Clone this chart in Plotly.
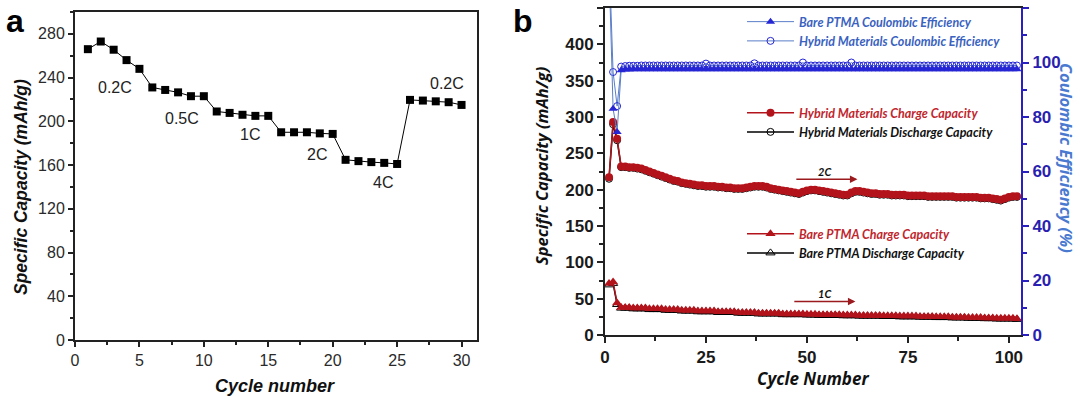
import plotly.graph_objects as go

# ---------------- Panel a data ----------------
a_cycles = list(range(1, 31))
a_capacity = [266, 273, 265.5, 256, 248, 231, 228.7, 226.5, 223, 223,
              209, 207.7, 206, 205, 205, 190, 190, 190, 189, 188.5,
              164.8, 163.6, 162.7, 162, 161, 219.6, 219, 218.3, 217.5, 215]
a_rate_labels = ["0.2C", "0.5C", "1C", "2C", "4C", "0.2C"]
a_rate_x = [3.1, 8.3, 13.6, 18.8, 23.9, 28.9]
a_rate_y = [231, 203, 188, 170, 144, 235]

# ---------------- Panel b data ----------------
b_cycles = list(range(1, 103))
hyb_charge = [217, 293, 270, 232, 232, 231, 231, 230, 229, 227,
              225, 223, 221, 219, 217, 215, 213, 212, 210, 209,
              208, 207, 206, 206, 205, 205, 205, 204, 204, 203,
              203, 202, 202, 202, 203, 204, 205, 205, 205, 204,
              202, 201, 200, 199, 198, 197, 196, 195, 197, 199,
              200, 200, 199, 198, 197, 196, 195, 194, 193, 193,
              196, 198, 198, 197, 196, 195, 195, 194, 194, 194,
              193, 193, 193, 193, 192, 192, 192, 192, 192, 191,
              191, 191, 191, 191, 191, 191, 190, 190, 190, 190,
              190, 190, 189, 189, 189, 188, 187, 186, 188, 190,
              191, 191]
hyb_discharge = [215, 290, 268, 231, 231, 230, 230, 229, 228, 226,
                 224, 222, 220, 218, 216, 214, 212, 211, 209, 208,
                 207, 206, 205, 205, 204, 204, 204, 203, 203, 202,
                 202, 201, 201, 201, 202, 203, 204, 204, 204, 203,
                 201, 200, 199, 198, 197, 196, 195, 194, 196, 198,
                 199, 199, 198, 197, 196, 195, 194, 193, 192, 192,
                 195, 197, 197, 196, 195, 194, 194, 193, 193, 193,
                 192, 192, 192, 192, 191, 191, 191, 191, 191, 190,
                 190, 190, 190, 190, 190, 190, 189, 189, 189, 189,
                 189, 189, 188, 188, 188, 187, 186, 185, 187, 189,
                 190, 190]
bare_charge = [71, 73, 44, 38, 38, 38, 37, 37, 37, 37,
               36, 36, 36, 36, 35, 35, 35, 35, 34, 34,
               34, 34, 33, 33, 33, 33, 33, 32, 32, 32,
               32, 32, 31, 31, 31, 31, 31, 30, 30, 30,
               30, 30, 30, 29, 29, 29, 29, 29, 29, 28.5,
               28.5, 28.5, 28, 28, 28, 28, 28, 28, 27.5, 27.5,
               27.5, 27.5, 27, 27, 27, 27, 27, 27, 26.5, 26.5,
               26.5, 26.5, 26, 26, 26, 26, 26, 25.5, 25.5, 25.5,
               25.5, 25, 25, 25, 25, 24.5, 24.5, 24.5, 24.5, 24,
               24, 24, 24, 23.5, 23.5, 23.5, 23, 23, 23, 23,
               23, 22.5]
bare_discharge = [69, 71, 42, 37, 37, 37, 36, 36, 36, 36,
                  35, 35, 35, 35, 34, 34, 34, 34, 33, 33,
                  33, 33, 32, 32, 32, 32, 32, 31, 31, 31,
                  31, 31, 30, 30, 30, 30, 30, 29, 29, 29,
                  29, 29, 29, 28, 28, 28, 28, 28, 28, 27.5,
                  27.5, 27.5, 27, 27, 27, 27, 27, 27, 26.5, 26.5,
                  26.5, 26.5, 26, 26, 26, 26, 26, 26, 25.5, 25.5,
                  25.5, 25.5, 25, 25, 25, 25, 25, 24.5, 24.5, 24.5,
                  24.5, 24, 24, 24, 24, 23.5, 23.5, 23.5, 23.5, 23,
                  23, 23, 23, 22.5, 22.5, 22.5, 22, 22, 22, 22,
                  22, 21.5]
hyb_ce = [140, 96.5, 84, 98.5, 98.7, 98.8, 98.8, 98.8, 98.9, 98.9,
          98.9, 98.9, 98.9, 98.9, 98.9, 98.9, 98.9, 98.9, 98.9, 98.9,
          98.9, 98.9, 98.9, 98.9, 99.6, 98.9, 98.9, 98.9, 98.9, 98.9,
          98.9, 98.9, 98.9, 98.9, 98.9, 98.9, 99.7, 98.9, 98.9, 98.9,
          98.9, 98.9, 98.9, 98.9, 98.9, 98.9, 98.9, 98.9, 100.0, 98.9,
          98.9, 98.9, 98.9, 98.9, 98.9, 98.9, 98.9, 98.9, 98.9, 98.9,
          100.0, 98.9, 98.9, 98.9, 98.9, 98.9, 98.9, 98.9, 98.9, 98.9,
          98.9, 98.9, 98.9, 98.9, 98.9, 98.9, 98.9, 98.9, 98.9, 98.9,
          98.9, 98.9, 98.9, 98.9, 98.9, 98.9, 98.9, 98.9, 98.9, 98.9,
          98.9, 98.9, 98.9, 98.9, 98.9, 98.9, 98.9, 98.9, 98.9, 98.9,
          98.9, 98.9]
bare_ce = [135, 83, 74.5, 97.2, 97.4, 97.4, 97.5, 97.5, 97.5, 97.5,
           97.5, 97.5, 97.5, 97.5, 97.5, 97.5, 97.5, 97.5, 97.5, 97.5,
           97.5, 97.5, 97.5, 97.5, 97.5, 97.5, 97.5, 97.5, 97.5, 97.5,
           97.5, 97.5, 97.5, 97.5, 97.5, 97.5, 97.5, 97.5, 97.5, 97.5,
           97.5, 97.5, 97.5, 97.5, 97.5, 97.5, 97.5, 97.5, 97.5, 97.5,
           97.5, 97.5, 97.5, 97.5, 97.5, 97.5, 97.5, 97.5, 97.5, 97.5,
           97.5, 97.5, 97.5, 97.5, 97.5, 97.5, 97.5, 97.5, 97.5, 97.5,
           97.5, 97.5, 97.5, 97.5, 97.5, 97.5, 97.5, 97.5, 97.5, 97.5,
           97.5, 97.5, 97.5, 97.5, 97.5, 97.5, 97.5, 97.5, 97.5, 97.5,
           97.5, 97.5, 97.5, 97.5, 97.5, 97.5, 97.5, 97.5, 97.5, 97.5,
           97.5, 97.5]
b_rate_labels = ["2C", "1C"]
b_rate_text_x = [54.5, 54.5]
b_rate_text_y = [225, 57]
b_arrow_x0 = [47, 46.5]
b_arrow_x1 = [62.5, 62]
b_arrow_y = [214.5, 46]

# ---------------- styles ----------------
RED = "#b3131b"
BLUE = "#2626d4"
LBLUE = "#5a7ec8"
W, H = 1080, 397
ARIAL = "Liberation Sans"
LEGF = "Lato"

fig = go.Figure()

# Panel a
fig.add_trace(go.Scatter(x=a_cycles, y=a_capacity, mode="lines+markers",
                         line=dict(color="black", width=1),
                         marker=dict(symbol="square", size=8, color="black"),
                         xaxis="x", yaxis="y", showlegend=False))

# Panel b traces
fig.add_trace(go.Scatter(x=b_cycles, y=hyb_ce, mode="lines+markers", name="Hybrid Materials Coulombic Efficiency",
                         line=dict(color=LBLUE, width=1),
                         marker=dict(symbol="circle-open", size=7, color=BLUE, line=dict(width=1)),
                         xaxis="x2", yaxis="y3", legend="legend", legendrank=2))
fig.add_trace(go.Scatter(x=b_cycles, y=bare_ce, mode="lines+markers", name="Bare PTMA Coulombic Efficiency",
                         line=dict(color=LBLUE, width=1),
                         marker=dict(symbol="triangle-up", size=8, color=BLUE),
                         xaxis="x2", yaxis="y3", legend="legend", legendrank=1))
fig.add_trace(go.Scatter(x=b_cycles, y=hyb_discharge, mode="lines+markers",
                         name="Hybrid Materials Discharge Capacity",
                         line=dict(color="black", width=1.5),
                         marker=dict(symbol="circle-open", size=7, color="black", line=dict(width=1)),
                         xaxis="x2", yaxis="y2", legend="legend2", legendrank=2))
fig.add_trace(go.Scatter(x=b_cycles, y=hyb_charge, mode="lines+markers",
                         name="<span style='color:#c0262d'>Hybrid Materials Charge Capacity</span>",
                         line=dict(color=RED, width=1.5),
                         marker=dict(symbol="circle", size=8, color=RED),
                         xaxis="x2", yaxis="y2", legend="legend2", legendrank=1))
fig.add_trace(go.Scatter(x=b_cycles, y=bare_discharge, mode="lines+markers",
                         name="Bare PTMA Discharge Capacity",
                         line=dict(color="black", width=1.5),
                         marker=dict(symbol="triangle-up-open", size=8, color="black", line=dict(width=1)),
                         xaxis="x2", yaxis="y2", legend="legend3", legendrank=2))
fig.add_trace(go.Scatter(x=b_cycles, y=bare_charge, mode="lines+markers",
                         name="<span style='color:#c0262d'>Bare PTMA Charge Capacity</span>",
                         line=dict(color=RED, width=1.5),
                         marker=dict(symbol="triangle-up", size=9, color=RED),
                         xaxis="x2", yaxis="y2", legend="legend3", legendrank=1))

def px_x(p):
    return p / W

def px_y(p):
    return 1 - p / H

tick_a = dict(family=ARIAL, size=16, color="#2a2a2a")
tick_b = dict(family=ARIAL, size=17, color="#1a1a1a", weight="bold")

common_a = dict(showline=True, linecolor="#222", linewidth=2, mirror=True, ticks="outside",
                ticklen=5, tickwidth=1.5, tickcolor="#222", showgrid=False, zeroline=False,
                tickfont=tick_a, automargin=False)

legfont = dict(family=LEGF, size=12.5, style="italic", weight="bold")

fig.update_layout(
    width=W, height=H, margin=dict(l=0, r=0, t=0, b=0, pad=0, autoexpand=False),
    paper_bgcolor="white", plot_bgcolor="white",
    xaxis=dict(domain=[px_x(75), px_x(477)], range=[0, 31.2], tick0=0, dtick=5,
               minor=dict(ticks="outside", dtick=2.5, ticklen=3, tickcolor="#222"),
               anchor="y", **common_a),
    yaxis=dict(domain=[px_y(340), px_y(12)], range=[0, 300], tick0=0, dtick=40,
               minor=dict(ticks="outside", dtick=20, ticklen=3, tickcolor="#222"),
               anchor="x", **common_a),
    xaxis2=dict(domain=[px_x(605), px_x(1021)], range=[0, 103], tick0=0, dtick=25,
                minor=dict(ticks="outside", dtick=12.5, ticklen=4, tickcolor="#222"),
                anchor="y2", showline=True, linecolor="#222", linewidth=2, mirror=True,
                ticks="outside", ticklen=6, tickwidth=1.5, tickcolor="#222",
                showgrid=False, zeroline=False, tickfont=tick_b, automargin=False),
    yaxis2=dict(domain=[px_y(335), px_y(8)], range=[0, 450], tick0=0, dtick=50,
                minor=dict(ticks="outside", dtick=25, ticklen=4, tickcolor="#222"),
                anchor="x2", showline=True, linecolor="#222", linewidth=2,
                ticks="outside", ticklen=6, tickwidth=1.5, tickcolor="#222",
                showgrid=False, zeroline=False, tickfont=tick_b, automargin=False),
    yaxis3=dict(range=[0, 120], tick0=0, dtick=20, overlaying="y2", side="right", anchor="x2",
                minor=dict(ticks="outside", dtick=10, ticklen=4, tickcolor="#2a20c0"),
                showline=True, linecolor="#2a20c0", linewidth=2,
                ticks="outside", ticklen=6, tickwidth=1.5, tickcolor="#2a20c0",
                showgrid=False, zeroline=False, automargin=False,
                tickfont=dict(family=ARIAL, size=17, color="#2a1fb0", weight="bold")),
    legend=dict(x=px_x(742), y=px_y(7), xanchor="left", yanchor="top", itemwidth=47,
                bgcolor="rgba(0,0,0,0)", tracegroupgap=0,
                font=dict(color="#3a62c0", **legfont)),
    legend2=dict(x=px_x(742), y=px_y(98), xanchor="left", yanchor="top", itemwidth=47,
                 bgcolor="rgba(0,0,0,0)",
                 font=dict(color="#111", **legfont)),
    legend3=dict(x=px_x(742), y=px_y(219), xanchor="left", yanchor="top", itemwidth=47,
                 bgcolor="rgba(0,0,0,0)",
                 font=dict(color="#111", **legfont)),
)

ann = []
def A(**kw):
    d = dict(showarrow=False, xanchor="center", yanchor="middle")
    d.update(kw)
    ann.append(d)

# panel letters
A(x=px_x(15), y=px_y(21), xref="paper", yref="paper", text="<b>a</b>",
  font=dict(family=ARIAL, size=32, color="black"))
A(x=px_x(523), y=px_y(21), xref="paper", yref="paper", text="<b>b</b>",
  font=dict(family=ARIAL, size=32, color="black"))
# panel a axis titles
A(x=px_x(21), y=px_y(187), xref="paper", yref="paper", textangle=-90,
  text="<b><i>Specific Capacity (mAh/g)</i></b>",
  font=dict(family=ARIAL, size=17.5, color="#111"))
A(x=px_x(275), y=px_y(386), xref="paper", yref="paper",
  text="<b><i>Cycle number</i></b>",
  font=dict(family=ARIAL, size=18, color="#111"))
# panel b axis titles
A(x=px_x(541), y=px_y(166), xref="paper", yref="paper", textangle=-90,
  text="<b><i>Specific Capacity (mAh/g)</i></b>",
  font=dict(family="Open Sans", size=16.5, color="#111"))
A(x=px_x(813), y=px_y(378), xref="paper", yref="paper",
  text="<b><i>Cycle Number</i></b>",
  font=dict(family="Open Sans", size=17, color="#111"))
A(x=px_x(1067), y=px_y(158), xref="paper", yref="paper", textangle=90,
  text="<b><i>Coulombic Efficiency (%)</i></b>",
  font=dict(family="Open Sans", size=16.5, color="#4a7ad0"))
# panel a rate labels
for t, xv, yv in zip(a_rate_labels, a_rate_x, a_rate_y):
    A(x=xv, y=yv, xref="x", yref="y", text=t,
      font=dict(family=ARIAL, size=16, color="#222"))
# panel b rate arrows
for t, tx, ty, x0, x1, yv in zip(b_rate_labels, b_rate_text_x, b_rate_text_y,
                                 b_arrow_x0, b_arrow_x1, b_arrow_y):
    ann.append(dict(x=x1, y=yv, ax=x0, ay=yv, xref="x2", yref="y2", axref="x2", ayref="y2",
                    text="", showarrow=True, arrowhead=2, arrowsize=1, arrowwidth=1.5,
                    arrowcolor="#9a1a1e"))
    A(x=tx, y=ty, xref="x2", yref="y2", text="<b><i>" + t + "</i></b>",
      font=dict(family=LEGF, size=11, color="#111"))
fig.update_layout(annotations=ann)

fig.write_html("out.html", config={"displayModeBar": False},
               post_script="document.body.style.margin='0px';document.body.style.padding='0px';"
                           "document.body.style.overflow='hidden';")
